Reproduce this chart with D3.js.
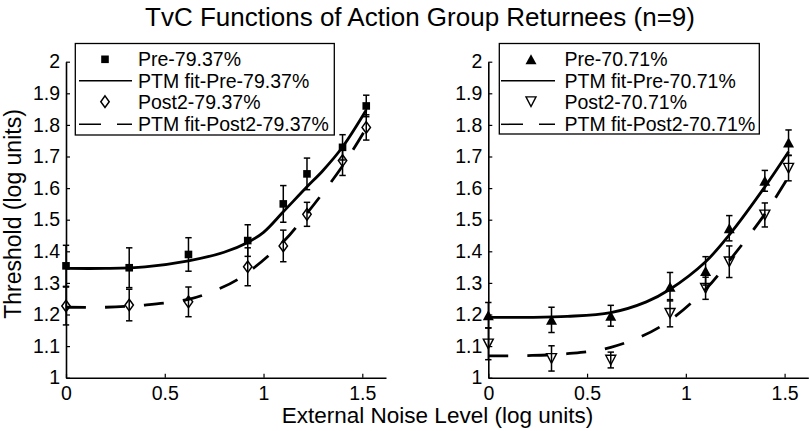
<!DOCTYPE html>
<html><head><meta charset="utf-8">
<script src="https://cdn.jsdelivr.net/npm/d3@7"></script>
<style>
body{margin:0;background:#fff}
text{font-family:"Liberation Sans",Arial,Helvetica,sans-serif;fill:#000}
</style>
</head><body>
<svg id="chart" width="810" height="431"></svg>
<script>
// ---------- data ----------
const noiseLevels = [0, 0.32, 0.62, 0.92, 1.1, 1.22, 1.4, 1.52];

const pre79 = [1.354, 1.348, 1.39, 1.434, 1.55, 1.645, 1.729, 1.86];
const pre79Err = [0.065, 0.063, 0.053, 0.05, 0.058, 0.05, 0.04, 0.034];
const post79 = [1.227, 1.23, 1.24, 1.351, 1.417, 1.517, 1.687, 1.792];
const post79Err = [0.06, 0.05, 0.047, 0.06, 0.05, 0.038, 0.047, 0.04];

const pre70 = [1.198, 1.183, 1.196, 1.288, 1.338, 1.473, 1.623, 1.744];
const pre70Err = [0.04, 0.04, 0.033, 0.045, 0.045, 0.04, 0.033, 0.04];
const post70 = [1.107, 1.061, 1.056, 1.204, 1.283, 1.367, 1.515, 1.663];
const post70Err = [0.05, 0.04, 0.025, 0.043, 0.035, 0.05, 0.038, 0.04];

// PTM fit curves
const fitPre79X = [0, 0.2, 0.4, 0.62, 0.8, 0.92, 1.0, 1.1, 1.22, 1.3, 1.4, 1.52];
const fitPre79Y = [1.346, 1.346, 1.351, 1.37, 1.397, 1.428, 1.46, 1.525, 1.604, 1.655, 1.73, 1.847];
const fitPost79X = [0, 0.2, 0.4, 0.62, 0.75, 0.88, 1.1, 1.22, 1.4, 1.52];
const fitPost79Y = [1.223, 1.223, 1.23, 1.248, 1.275, 1.315, 1.43, 1.52, 1.67, 1.79];
const fitPre70X = [0, 0.2, 0.4, 0.62, 0.8, 0.92, 1.1, 1.22, 1.4, 1.52];
const fitPre70Y = [1.191, 1.191, 1.194, 1.206, 1.24, 1.28, 1.367, 1.452, 1.604, 1.715];
const fitPost70X = [0, 0.2, 0.4, 0.62, 0.87, 1.1, 1.22, 1.4, 1.52];
const fitPost70Y = [1.069, 1.07, 1.076, 1.096, 1.161, 1.28, 1.37, 1.518, 1.636];

const yTicks = [1, 1.1, 1.2, 1.3, 1.4, 1.5, 1.6, 1.7, 1.8, 1.9, 2];
const xTicks = [0, 0.5, 1, 1.5];
const xDomain = [0, 1.62];
const yDomain = [1, 2];

const titleText = "TvC Functions of Action Group Returnees (n=9)";
const xLabelText = "External Noise Level (log units)";
const yLabelText = "Threshold (log units)";
const legend79 = ["Pre-79.37%", "PTM fit-Pre-79.37%", "Post2-79.37%", "PTM fit-Post2-79.37%"];
const legend70 = ["Pre-70.71%", "PTM fit-Pre-70.71%", "Post2-70.71%", "PTM fit-Post2-70.71%"];

// ---------- layout ----------
const svg = d3.select("#chart");
const TOP = 61.7, BOTTOM = 377.7;
const DASH = "20,19";

const panels = [
  { x0: 66, x1: 386, pre: pre79, preErr: pre79Err, post: post79, postErr: post79Err,
    fitPre: [fitPre79X, fitPre79Y], fitPost: [fitPost79X, fitPost79Y],
    preSym: "square", postSym: "diamond", legend: legend79,
    box: { x: 75.3, y: 43.5, w: 259, h: 91.5 }, lineX: [79, 132], markX: 105, textX: 138 },
  { x0: 488.3, x1: 808.3, pre: pre70, preErr: pre70Err, post: post70, postErr: post70Err,
    fitPre: [fitPre70X, fitPre70Y], fitPost: [fitPost70X, fitPost70Y],
    preSym: "triUp", postSym: "triDown", legend: legend70,
    box: { x: 499.3, y: 43.5, w: 260, h: 90.5 }, lineX: [501, 555], markX: 531, textX: 564.5 }
];

function drawMarker(g, type, cx, cy) {
  if (type === "square") {
    const s = 7.6;
    g.append("rect").attr("x", cx - s / 2).attr("y", cy - s / 2).attr("width", s).attr("height", s)
      .attr("fill", "#000");
  } else if (type === "diamond") {
    const w = 4.2, h = 5.8;
    g.append("path").attr("d", `M${cx},${cy - h}L${cx + w},${cy}L${cx},${cy + h}L${cx - w},${cy}Z`)
      .attr("fill", "none").attr("stroke", "#000").attr("stroke-width", 1.5);
  } else if (type === "triUp") {
    const w = 5.5, h = 5;
    g.append("path").attr("d", `M${cx},${cy - h}L${cx + w},${cy + h}L${cx - w},${cy + h}Z`)
      .attr("fill", "#000");
  } else if (type === "triDown") {
    const w = 5, h = 4.8;
    g.append("path").attr("d", `M${cx - w},${cy - h}L${cx + w},${cy - h}L${cx},${cy + h}Z`)
      .attr("fill", "none").attr("stroke", "#000").attr("stroke-width", 1.4);
  }
}

panels.forEach(p => {
  const x = d3.scaleLinear().domain(xDomain).range([p.x0, p.x1]);
  const y = d3.scaleLinear().domain(yDomain).range([BOTTOM, TOP]);
  const g = svg.append("g");

  // axes
  const yAxis = d3.axisLeft(y).tickValues(yTicks).tickSizeInner(-4).tickSizeOuter(0).tickPadding(6)
    .tickFormat(d => (d === 1 || d === 2) ? String(d) : d.toFixed(1));
  const xAxis = d3.axisBottom(x).tickValues(xTicks).tickSizeInner(-4).tickSizeOuter(0).tickPadding(8)
    .tickFormat(d => String(d));
  const ya = g.append("g").attr("transform", `translate(${p.x0},0)`).call(yAxis);
  const xa = g.append("g").attr("transform", `translate(0,${BOTTOM})`).call(xAxis);
  [ya, xa].forEach(a => {
    a.select(".domain").attr("stroke", "#000").attr("stroke-width", 1.6);
    a.selectAll(".tick line").attr("stroke", "#000").attr("stroke-width", 1.2);
    a.selectAll(".tick text").attr("font-size", 19.5).attr("fill", "#000")
      .style("font-family", '"Liberation Sans",Arial,sans-serif');
  });

  // fits
  const line = d3.line().x(d => x(d[0])).y(d => y(d[1])).curve(d3.curveCatmullRom.alpha(0.5));
  const preFit = d3.zip(p.fitPre[0], p.fitPre[1]);
  const postFit = d3.zip(p.fitPost[0], p.fitPost[1]);
  g.append("path").datum(preFit).attr("d", line).attr("fill", "none")
    .attr("stroke", "#000").attr("stroke-width", 2.8);
  g.append("path").datum(postFit).attr("d", line).attr("fill", "none")
    .attr("stroke", "#000").attr("stroke-width", 2.8).attr("stroke-dasharray", DASH);

  // error bars and markers
  function series(vals, errs, sym) {
    vals.forEach((v, i) => {
      const cx = x(noiseLevels[i]);
      const yt = y(v + errs[i]), yb = y(v - errs[i]);
      g.append("line").attr("x1", cx).attr("x2", cx).attr("y1", yt).attr("y2", yb)
        .attr("stroke", "#000").attr("stroke-width", 1.5);
      [yt, yb].forEach(yy => g.append("line").attr("x1", cx - 3.2).attr("x2", cx + 3.2)
        .attr("y1", yy).attr("y2", yy).attr("stroke", "#000").attr("stroke-width", 1.5));
      drawMarker(g, sym, cx, y(v));
    });
  }
  series(p.pre, p.preErr, p.preSym);
  series(p.post, p.postErr, p.postSym);

  // legend
  const b = p.box;
  const lg = svg.append("g");
  lg.append("rect").attr("x", b.x).attr("y", b.y).attr("width", b.w).attr("height", b.h)
    .attr("fill", "#fff").attr("stroke", "#000").attr("stroke-width", 1.3);
  const rowY = [b.y + 15.8, b.y + 37.2, b.y + 58.2, b.y + 80.8];
  p.legend.forEach((t, i) => {
    lg.append("text").attr("x", p.textX).attr("y", rowY[i] + 7).attr("font-size", 19.5).text(t);
  });
  drawMarker(lg, p.preSym, p.markX, rowY[0]);
  drawMarker(lg, p.postSym, p.markX, rowY[2]);
  lg.append("line").attr("x1", p.lineX[0]).attr("x2", p.lineX[1]).attr("y1", rowY[1]).attr("y2", rowY[1])
    .attr("stroke", "#000").attr("stroke-width", 1.5);
  lg.append("line").attr("x1", p.lineX[0]).attr("x2", p.lineX[1]).attr("y1", rowY[3]).attr("y2", rowY[3])
    .attr("stroke", "#000").attr("stroke-width", 1.5).attr("stroke-dasharray", "22,16");
});

// titles
svg.append("text").attr("x", 420).attr("y", 26).attr("text-anchor", "middle")
  .attr("font-size", 26).text(titleText);
svg.append("text").attr("x", 437.5).attr("y", 423).attr("text-anchor", "middle")
  .attr("font-size", 22.5).text(xLabelText);
svg.append("text").attr("transform", "translate(21,214) rotate(-90)").attr("text-anchor", "middle")
  .attr("font-size", 23).text(yLabelText);
</script>
</body></html>
